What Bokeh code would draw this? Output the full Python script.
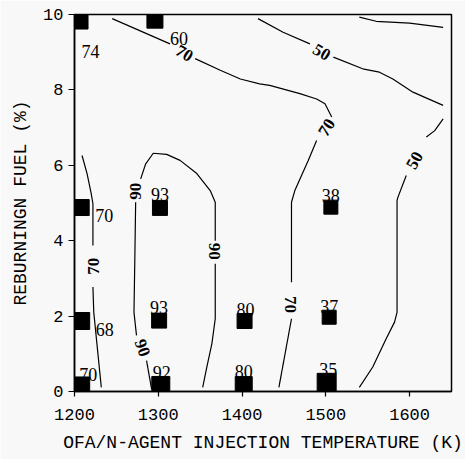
from bokeh.plotting import figure
from bokeh.models import ColumnDataSource, FixedTicker, Range1d
from bokeh.embed import file_html
from bokeh.resources import INLINE
from bokeh.core.properties import value
import math

# ---------------- data ----------------
# measured points: OFA/N-agent injection temperature (K), reburning fuel (%), NOx reduction (%)
temps = [1206, 1296, 1208, 1302, 1506, 1208, 1301, 1403, 1504, 1208, 1303, 1402, 1501]
fuel = [9.84, 9.85, 4.88, 4.87, 4.89, 1.87, 1.88, 1.87, 1.97, 0.16, 0.16, 0.17, 0.23]
reduction = [74, 60, 70, 93, 38, 68, 93, 80, 37, 70, 92, 80, 35]

x_ticks = [1200, 1300, 1400, 1500, 1600]
y_ticks = [0, 2, 4, 6, 8, 10]

# contour 70 (upper / middle)
c70a_x = [[1245, 1314],
          [1344, 1374, 1398, 1421, 1433, 1469, 1489, 1499, 1507],
          [1489, 1479, 1463, 1459, 1459],
          [1459, 1444]]
c70a_y = [[9.89, 9.22],
          [8.83, 8.52, 8.29, 8.16, 8.12, 7.90, 7.76, 7.63, 7.28],
          [6.66, 6.13, 5.33, 5.02, 2.90],
          [1.93, 0.11]]
# contour 70 (left)
c70b_x = [[1209, 1215, 1220, 1222, 1222],
          [1222, 1223, 1232]]
c70b_y = [[6.26, 5.78, 5.24, 4.98, 3.87],
          [2.77, 2.10, 0.11]]
# contour 50 (upper)
c50a_x = [[1419, 1449, 1481],
          [1509, 1544, 1564, 1580, 1604, 1640]]
c50a_y = [[9.89, 9.53, 9.22],
          [8.87, 8.56, 8.47, 8.29, 7.94, 7.59]]
# contour 50 (top-right corner)
c50b_x = [[1540, 1560, 1600, 1640]]
c50b_y = [[9.93, 9.82, 9.77, 9.66]]
# contour 50 (right)
c50c_x = [[1640, 1630, 1620],
          [1596, 1586, 1585, 1585, 1582, 1572, 1556, 1540]]
c50c_y = [[7.23, 6.92, 6.75],
          [5.73, 5.15, 5.07, 2.10, 1.84, 1.40, 0.65, 0.11]]
# contour 90
c90_x = [[1279, 1285, 1294, 1310, 1326, 1346, 1362, 1368, 1368],
         [1368, 1368, 1364, 1358, 1353],
         [1273, 1272, 1271, 1274],
         [1286, 1292]]
c90_y = [[5.64, 6.04, 6.32, 6.29, 6.13, 5.78, 5.33, 5.02, 4.00],
         [3.39, 1.93, 1.27, 0.65, 0.11],
         [5.02, 3.50, 2.10, 1.49],
         [0.82, 0.07]]

# contour labels
clab_text = ["70", "70", "70", "70", "50", "50", "90", "90", "90"]
clab_x = [1331, 1501, 1458, 1223, 1495, 1606, 1367, 1273, 1281]
clab_y = [8.97, 7.00, 2.31, 3.32, 9.00, 6.13, 3.72, 5.31, 1.16]

# ---------------- styling ----------------
clab_angle_deg = [-31, 57, -90, 90, -30, 61, -90, 90, -70]
marker_px = [17, 16, 16, 15, 14, 17, 15, 15, 14, 17, 18, 17, 19]
lab_align = ["left", "left", "left", "center", "center", "left", "center", "center",
             "center", "left", "center", "center", "center"]
lab_dx = [2, 15, 14, 0, 0, 14.5, 0, 1, 0, -2, 1, 0, 1.5]
lab_dy = [31, 18, 8, -13, -12, 8, -13, -12, -10.5, -11, -13, -14, -13.5]

BG = "#f8f8f8"

p = figure(width=465, height=459,
           x_range=Range1d(1200, 1650), y_range=Range1d(0, 10),
           output_backend="svg", toolbar_location=None,
           min_border_left=74, min_border_right=14,
           min_border_top=14, min_border_bottom=68)
p.background_fill_color = BG
p.border_fill_color = BG
p.outline_line_color = "black"
p.outline_line_width = 1.5
p.xgrid.visible = False
p.ygrid.visible = False

for ax in (p.xaxis[0], p.yaxis[0]):
    ax.axis_line_color = "black"
    ax.axis_line_width = 1.5
    ax.major_tick_line_color = "black"
    ax.major_tick_line_width = 1.2
    ax.major_tick_in = 0
    ax.minor_tick_line_color = None
    ax.major_label_text_font = "Liberation Mono"
    ax.major_label_text_font_size = "17px"
    ax.major_label_text_color = "black"
    ax.axis_label_text_font = "Liberation Mono"
    ax.axis_label_text_font_size = "18px"
    ax.axis_label_text_font_style = "normal"
    ax.axis_label_text_color = "black"

p.xaxis.ticker = FixedTicker(ticks=x_ticks)
p.yaxis.ticker = FixedTicker(ticks=y_ticks)
p.xaxis.major_tick_out = 5
p.yaxis.major_tick_out = 6
p.xaxis.major_label_standoff = 12
p.yaxis.major_label_standoff = 5
p.xaxis.axis_label = "OFA/N-AGENT INJECTION TEMPERATURE (K)"
p.yaxis.axis_label = "REBURNINGN FUEL (%)"
p.xaxis.axis_label_standoff = 10
p.yaxis.axis_label_standoff = 9

# contour lines
all_x = c70a_x + c70b_x + c50a_x + c50b_x + c50c_x + c90_x
all_y = c70a_y + c70b_y + c50a_y + c50b_y + c50c_y + c90_y
p.multi_line(xs=all_x, ys=all_y, line_color="black", line_width=1.2)

# contour labels
csrc = ColumnDataSource(dict(x=clab_x, y=clab_y, t=clab_text,
                             a=[math.radians(d) for d in clab_angle_deg]))
p.text(x="x", y="y", text="t", angle="a", source=csrc,
       text_font=value("Liberation Serif"), text_font_style="bold",
       text_font_size="17px", text_align="center", text_baseline="middle",
       text_color="black")

# data squares
src = ColumnDataSource(dict(x=temps, y=fuel, s=marker_px,
                            t=[str(v) for v in reduction],
                            al=lab_align, dx=lab_dx, dy=lab_dy))
p.scatter(x="x", y="y", size="s", marker="square", source=src,
          fill_color="black", line_color="black")
p.text(x="x", y="y", text="t", x_offset="dx", y_offset="dy", text_align="al",
       source=src, text_font=value("Liberation Serif"), text_font_size="18px",
       text_baseline="alphabetic", text_color="black")

open("out.html", "w").write(file_html(p, INLINE))
